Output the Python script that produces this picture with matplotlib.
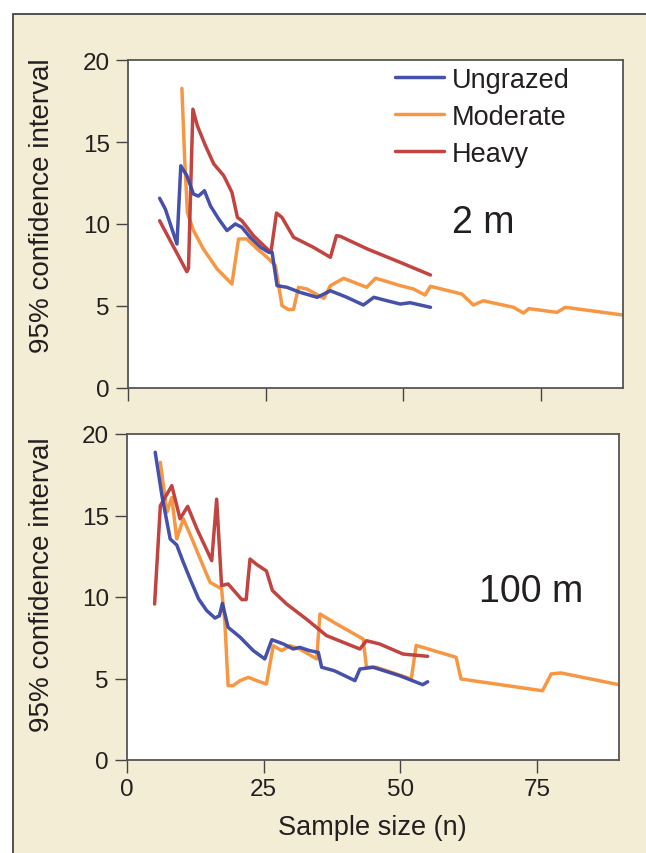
import matplotlib.pyplot as plt
from matplotlib.patches import Rectangle

plt.rcParams['font.family'] = ['Liberation Sans', 'DejaVu Sans']

series_names = ['Ungrazed', 'Moderate', 'Heavy']
series_colors = ['#3b47a6', '#f7923a', '#bf3a36']
x_ticks = [0, 25, 50, 75]
y_ticks = [0, 5, 10, 15, 20]
panel_labels = ['2 m', '100 m']

# 2 m plots
u2_x = [5.75, 6.8, 8.9, 9.6, 10.7, 11.9, 12.8, 13.9, 15.0, 16.5, 18.0, 19.5, 20.7, 22.2, 24.1,
        25.6, 26.2, 27.1, 28.9, 31.3, 34.4, 36.8, 39.8, 42.8, 44.7, 47.1, 49.5, 51.3, 55.0]
u2_y = [11.57, 10.9, 8.78, 13.55, 12.95, 11.83, 11.7, 12.03, 11.1, 10.3, 9.6, 10.0, 9.8, 9.19, 8.58,
        8.27, 8.27, 6.24, 6.14, 5.83, 5.53, 5.93, 5.53, 5.06, 5.53, 5.32, 5.12, 5.2, 4.92]
m2_x = [9.8, 10.3, 10.8, 11.9, 13.7, 16.2, 18.9, 20.1, 21.6, 23.5, 25.3, 26.8, 28.0, 29.2, 30.1,
        31.0, 32.5, 35.6, 36.8, 39.2, 43.4, 45.0, 47.1, 49.5, 51.9, 54.0, 55.0, 60.7, 62.8, 64.6,
        70.1, 71.9, 72.9, 78.0, 79.5, 90.0]
m2_y = [18.27, 14.0, 10.7, 9.6, 8.48, 7.26, 6.34, 9.09, 9.09, 8.48, 7.97, 7.46, 5.02, 4.78, 4.8,
        6.14, 6.04, 5.47, 6.24, 6.69, 6.14, 6.69, 6.49, 6.24, 6.04, 5.67, 6.2, 5.73, 5.06, 5.32,
        4.92, 4.57, 4.84, 4.61, 4.92, 4.45]
h2_x = [5.75, 10.7, 11.0, 11.8, 12.6, 14.05, 15.6, 17.4, 18.9, 19.9, 20.7, 22.8, 25.3, 26.0,
        27.0, 28.0, 30.1, 33.7, 36.8, 37.9, 38.6, 43.5, 49.5, 55.0]
h2_y = [10.2, 7.09, 7.3, 17.0, 16.0, 14.8, 13.66, 12.95, 11.93, 10.4, 10.2, 9.29, 8.48, 8.3,
        10.67, 10.4, 9.19, 8.58, 7.97, 9.29, 9.25, 8.48, 7.66, 6.89]

# 100 m plots
u100_x = [5.16, 6.4, 7.9, 9.1, 10.3, 11.55, 13.1, 14.6, 16.1, 16.9, 17.45, 18.5, 20.7, 23.1, 25.2,
          26.5, 28.6, 30.4, 31.6, 33.4, 35.0, 35.6, 37.9, 41.7, 42.6, 45.0, 49.9, 54.1, 55.0]
u100_y = [18.88, 16.2, 13.56, 13.19, 12.13, 11.1, 9.88, 9.16, 8.71, 8.85, 9.61, 8.14, 7.53, 6.71, 6.2,
          7.38, 7.12, 6.81, 6.91, 6.71, 6.6, 5.69, 5.48, 4.87, 5.58, 5.69, 5.17, 4.62, 4.8]
m100_x = [6.1, 7.3, 8.2, 9.1, 10.3, 11.9, 13.4, 15.2, 17.3, 17.9, 18.5, 19.4, 20.7, 22.2, 23.7,
          25.5, 26.75, 28.3, 29.8, 31.6, 34.7, 35.3, 37.8, 43.2, 43.8, 45.6, 52.0, 52.9, 60.2, 61.1,
          76.0, 77.6, 79.4, 90.0]
m100_y = [18.26, 15.2, 16.1, 13.56, 14.8, 13.56, 12.33, 10.9, 10.5, 8.45, 4.56, 4.56, 4.87, 5.07, 4.87,
          4.66, 7.01, 6.71, 7.01, 6.81, 6.2, 8.96, 8.45, 7.42, 5.69, 5.69, 4.97, 7.03, 6.3, 4.97,
          4.25, 5.28, 5.34, 4.62]
h100_x = [5.05, 6.1, 8.2, 9.7, 11.1, 12.8, 15.5, 16.4, 17.3, 18.5, 21.0, 21.8, 22.5, 23.7, 25.5,
          26.6, 29.2, 32.8, 36.5, 42.6, 43.8, 46.2, 50.5, 55.0]
h100_y = [9.57, 15.6, 16.83, 14.8, 15.56, 14.17, 12.23, 16.0, 10.7, 10.8, 9.84, 9.84, 12.33, 12.0, 11.6,
          10.4, 9.57, 8.65, 7.63, 6.81, 7.32, 7.12, 6.5, 6.36]

panels = [
    [(u2_x, u2_y), (m2_x, m2_y), (h2_x, h2_y)],
    [(u100_x, u100_y), (m100_x, m100_y), (h100_x, h100_y)],
]

txt = '#231f20'
fig = plt.figure(figsize=(6.46, 8.54), dpi=100)
fig.patch.set_facecolor('white')
fig.add_artist(Rectangle((13 / 646, -0.5), 2.0, 1.5 - 15 / 854, transform=fig.transFigure,
                         facecolor='#f4edd6', edgecolor='#444444', lw=1.3, zorder=0))

ax_top = fig.add_axes([128 / 646, 1 - 389 / 854, 495 / 646, 328 / 854])
ax_bot = fig.add_axes([127 / 646, 1 - 761 / 854, 492 / 646, 326 / 854])

handles = []
for ax, data in zip([ax_top, ax_bot], panels):
    ax.set_facecolor('white')
    lines = [None] * 3
    for i in [1, 2, 0]:
        xs, ys = data[i]
        lines[i], = ax.plot(xs, ys, color=series_colors[i], lw=2.5, label=series_names[i],
                            solid_joinstyle='round', solid_capstyle='round', alpha=0.95)
    handles = lines
    ax.set_xlim(0, 90)
    ax.set_ylim(0, 20)
    ax.set_xticks(x_ticks)
    ax.set_yticks(y_ticks)
    for sp in ax.spines.values():
        sp.set_color('#555555')
        sp.set_linewidth(1.3)
    ax.tick_params(direction='out', length=9, width=1.0, color='#444444',
                   labelsize=17.5, labelcolor=txt, pad=4)

ax_top.tick_params(labelbottom=False)
fig.text(452 / 646, 1 - 223 / 854, panel_labels[0], fontsize=27, color=txt, va='center', ha='left')
fig.text(531 / 646, 1 - 592 / 854, panel_labels[1], fontsize=27, color=txt, va='center', ha='center')

ax_top.legend(handles=handles, loc='upper left', bbox_to_anchor=(384 / 646, 1 - 57 / 854),
              bbox_transform=fig.transFigure, frameon=False, fontsize=19.5,
              handlelength=1.8, handletextpad=0.3, labelspacing=0.4, borderaxespad=0,
              labelcolor=txt)

for yc in [205.5, 585]:
    fig.text(42 / 646, 1 - yc / 854, '95% confidence interval', rotation=90, fontsize=20,
             color=txt, ha='center', va='center')
fig.text(372 / 646, 1 - 828 / 854, 'Sample size (n)', fontsize=19.5, color=txt,
         ha='center', va='center')

fig.savefig('out.png', dpi=100)
